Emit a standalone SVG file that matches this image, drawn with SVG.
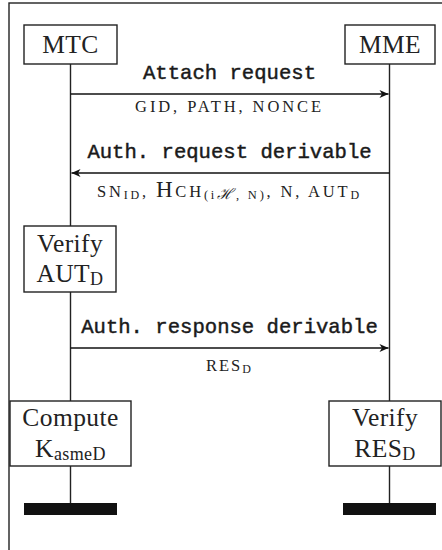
<svg xmlns="http://www.w3.org/2000/svg" width="442" height="550" viewBox="0 0 442 550">
<defs>
<style>
.box{fill:#fff;stroke:#222;stroke-width:1.4}
.life{stroke:#222;stroke-width:1.4;fill:none}
.msg{stroke:#111;stroke-width:1.4;fill:none}
.rm{font-family:"Liberation Serif","DejaVu Serif",serif;font-size:25.5px;letter-spacing:0.4px;fill:#222;text-anchor:middle}
.tt{font-family:"Liberation Mono","DejaVu Sans Mono",monospace;font-size:20.6px;fill:#1a1a1a;stroke:#1a1a1a;stroke-width:0.45px;text-anchor:middle}
.sc{font-family:"Liberation Serif","DejaVu Serif",serif;font-size:16.5px;fill:#222;text-anchor:middle}
.bar{fill:#111}
</style>
<marker id="ah" viewBox="-10 -5 11 10" refX="0" refY="0" markerWidth="11" markerHeight="10" markerUnits="userSpaceOnUse" orient="auto">
<path d="M0,0 L-9,-4 L-6.5,0 L-9,4 Z" fill="#111"/>
</marker>
</defs>
<rect x="9" y="3" width="450" height="570" fill="#fff" stroke="#222" stroke-width="1.4"/>
<g id="lifelines">
<line class="life" x1="70.5" y1="64" x2="70.5" y2="509"/>
<line class="life" x1="389.5" y1="64" x2="389.5" y2="509"/>
</g>
<g id="connectors">
<line class="msg" x1="70.5" y1="94" x2="388.5" y2="94" marker-end="url(#ah)"/>
<line class="msg" x1="389.5" y1="173" x2="71.5" y2="173" marker-end="url(#ah)"/>
<line class="msg" x1="70.5" y1="348" x2="388.5" y2="348" marker-end="url(#ah)"/>
<text class="tt" x="229.5" y="79">Attach request</text>
<text class="sc" x="229.5" y="112" letter-spacing="2.9">GID, PATH, NONCE</text>
<text class="tt" x="229.5" y="158">Auth. request derivable</text>
<text class="sc" x="229.5" y="197" letter-spacing="2.8">SN<tspan font-size="12" dy="2">ID</tspan><tspan dy="-2">, </tspan><tspan font-size="23">H</tspan>CH<tspan font-size="12.5" dy="2">(i<tspan font-family="DejaVu Serif" font-style="italic" font-size="15">ℋ</tspan>, N)</tspan><tspan dy="-2">, N, AUT</tspan><tspan font-size="12" dy="2">D</tspan></text>
<text class="tt" x="229.5" y="333">Auth. response derivable</text>
<text class="sc" x="229.5" y="371" letter-spacing="2">RES<tspan font-size="12" dy="2">D</tspan></text>
</g>
<g id="MTC">
<rect class="box" x="24" y="25" width="93" height="39"/>
<text class="rm" x="70.5" y="53">MTC</text>
</g>
<g id="MME">
<rect class="box" x="345" y="25" width="90" height="39"/>
<text class="rm" x="390" y="53">MME</text>
</g>
<g id="verifyAUT">
<rect class="box" x="24" y="226" width="92" height="66"/>
<text class="rm" x="70" y="252">Verify</text>
<text class="rm" x="70" y="282">AUT<tspan font-size="18" dy="3">D</tspan></text>
</g>
<g id="compute">
<rect class="box" x="10" y="401" width="121" height="65"/>
<text class="rm" x="70.5" y="426">Compute</text>
<text class="rm" x="70.5" y="457">K<tspan font-size="18" dy="3">asmeD</tspan></text>
</g>
<g id="verifyRES">
<rect class="box" x="329" y="401" width="112" height="65"/>
<text class="rm" x="385" y="426">Verify</text>
<text class="rm" x="385" y="457">RES<tspan font-size="18" dy="3">D</tspan></text>
</g>
<g id="ends">
<rect class="bar" x="24" y="503" width="93" height="12"/>
<rect class="bar" x="343" y="503" width="93" height="12"/>
</g>
</svg>
